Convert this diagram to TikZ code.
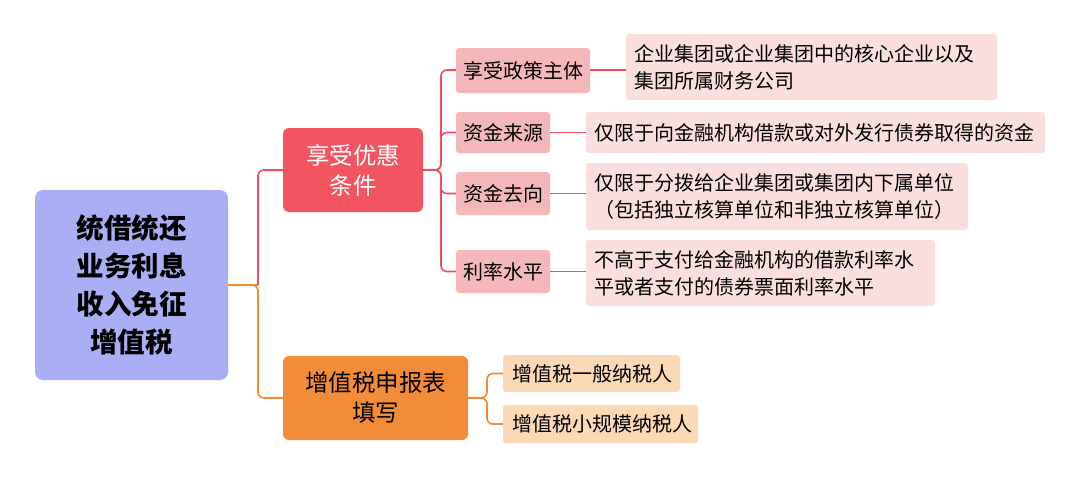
\documentclass[tikz,border=0pt]{standalone}
\usepackage{fontspec}
\setmainfont{Noto Sans CJK SC}
\begin{document}
\begin{tikzpicture}[x=1pt,y=-1pt,
 rl/.style={line width=1.6pt,rounded corners=6pt},
 ol/.style={line width=1.6pt,rounded corners=6pt}]
\useasboundingbox (0,0) rectangle (1080,479);
\definecolor{root}{HTML}{A9AEF5}\definecolor{rA}{HTML}{F25560}\definecolor{oB}{HTML}{F28C38}
\definecolor{pk}{HTML}{F5B8BA}\definecolor{lp}{HTML}{FBDFDE}\definecolor{lo}{HTML}{FBD8B6}
\definecolor{rline}{HTML}{F04E5A}\definecolor{oline}{HTML}{F5892E}
\tikzset{rl/.append style={draw=rline},ol/.append style={draw=oline}}
% boxes
\path[fill=root,rounded corners=8pt] (35,190) rectangle (228,380);
\node[align=center,font=\fontsize{27.5}{38}\selectfont\bfseries] (root) at (131.5,285) {统借统还\\业务利息\\收入免征\\增值税};
\path[fill=rA,rounded corners=6pt] (283,128) rectangle (423,212);
\node[align=center,text=white,font=\fontsize{23.5}{30}\selectfont] (A) at (353,170) {享受优惠\\条件};
\path[fill=oB,rounded corners=6pt] (283,356) rectangle (468,440);
\node[align=center,font=\fontsize{23.5}{30}\selectfont] (B) at (375.5,398) {增值税申报表\\填写};
\foreach \n/\a/\b/\c/\d/\t in {c1/456/48/590/93/享受政策主体,c2/456/112/550/153/资金来源,c3/456/172/550/215/资金去向,c4/456/250/550/293/利率水平}{
 \path[fill=pk,rounded corners=3pt] (\a,\b) rectangle (\c,\d);
 \node[font=\fontsize{20}{24}\selectfont] (\n) at ({(\a+\c)/2},{(\b+\d)/2}) {\t};}
\foreach \n/\a/\b/\c/\d/\t in {l1/626/34/997/100/{企业集团或企业集团中的核心企业以及\\集团所属财务公司},l2/586/112/1045/153/{仅限于向金融机构借款或对外发行债券取得的资金},l3/586/163/968/230/{仅限于分拨给企业集团或集团内下属单位\\（包括独立核算单位和非独立核算单位）},l4/586/240/935/306/{不高于支付给金融机构的借款利率水\\平或者支付的债券票面利率水平}}{
 \path[fill=lp,rounded corners=3pt] (\a,\b) rectangle (\c,\d);
 \node[anchor=west,align=left,font=\fontsize{20}{27}\selectfont] (\n) at ({\a+5},{(\b+\d)/2}) {\t};}
\foreach \n/\a/\b/\c/\d/\t in {o1/503/355/680/392/增值税一般纳税人,o2/503/405/698/443/增值税小规模纳税人}{
 \path[fill=lo,rounded corners=3pt] (\a,\b) rectangle (\c,\d);
 \node[anchor=west,font=\fontsize{20}{24}\selectfont] (\n) at ({\a+6},{(\b+\d)/2}) {\t};}
\coordinate (rr) at (228,285); \coordinate (Ar) at (423,170); \coordinate (Br) at (468,398);
\coordinate (Al) at (283,170); \coordinate (Bl) at (283,398);
% connectors
\draw[ol] (rr) -- (258,285) |- (Bl);
\draw[rl] (258,285) |- (Al);
\draw[ol] (rr) -- (258,285);
\foreach \y/\n in {70/c1,132.5/c2,193.5/c3,271.5/c4}{\draw[rl] (Ar) -- (441,170) |- (456,\y);}
\draw[rl] (590,70) -- (626,70);
\foreach \y in {132.5,193.5,271.5}{\draw[rl] (550,\y) -- (586,\y);}
\foreach \y in {373.5,424}{\draw[ol] (Br) -- (487,398) |- (503,\y);}
\end{tikzpicture}
\end{document}
